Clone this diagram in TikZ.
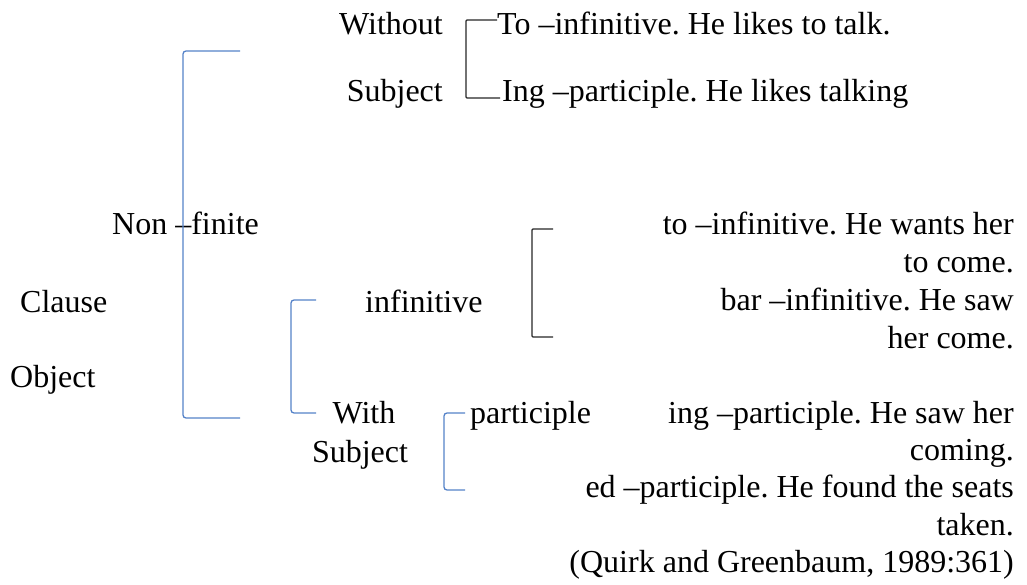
\documentclass[tikz,border=0pt]{standalone}
\usepackage{fontspec}
\setmainfont{Liberation Serif}
\frenchspacing
\definecolor{brblue}{RGB}{84,130,200}

\begin{document}
\begin{tikzpicture}[x=1pt,y=-1pt]
    \tikzset{
    txt/.style={inner sep=0pt,font=\fontsize{32}{37.5}\selectfont},
    lft/.style={txt,anchor=base west},
    rgt/.style={txt,anchor=base east},
    bl/.style={draw=brblue,line width=1.3pt,rounded corners=3pt},
    bk/.style={draw=black!85,line width=1.2pt,rounded corners=1pt},
    }
    \useasboundingbox (0,0) rectangle (1027,585);

    \node[lft] (clause) at (20,312) {Clause};
    \node[lft] (object) at (10,387) {Object};
    \node[lft] (nonfin) at (112,235) {Non –finite};

    \node[rgt] (without) at (443,35) {Without};
    \node[rgt] (subj1) at (443,102) {Subject};
    \node[lft] (toinf) at (497,35) {To –infinitive. He likes to talk.};
    \node[lft] (ingpart) at (502,102) {Ing –participle. He likes talking};

    \node[lft] (inf) at (365,312) {infinitive};
    \node[txt,anchor=base] (with) at (364,423) {With};
    \node[txt,anchor=base] (subj2) at (360,462) {Subject};
    \node[lft] (part) at (470,423) {participle};

    \node[rgt] (toinf2) at (1014,235) {to –infinitive. He wants her};
    \node[rgt] (tocome) at (1014,272) {to come.};
    \node[rgt] (barinf) at (1014,310) {bar –infinitive. He saw};
    \node[rgt] (hercome) at (1014,348) {her come.};
    \node[rgt] (ingpart2) at (1014,423) {ing –participle. He saw her};
    \node[rgt] (coming) at (1014,460) {coming.};
    \node[rgt] (edpart) at (1014,497) {ed –participle. He found the seats};
    \node[rgt] (taken) at (1014,535) {taken.};
    \node[rgt] (source) at (1014,572) {(Quirk and Greenbaum, 1989:361)};

    % bracket ends
    \coordinate (nfa) at (240,51);
    \coordinate (nfb) at (240,418);
    \coordinate (wsa) at (497,20);
    \coordinate (wsb) at (500,98);
    \coordinate (ifa) at (316,300);
    \coordinate (ifb) at (316,413);
    \coordinate (tba) at (553,229);
    \coordinate (tbb) at (553,337);
    \coordinate (pta) at (465,413);
    \coordinate (ptb) at (465,490);

    \draw[bl] (nfa) -- ++(-57,0) |- (nfb);
    \draw[bk] (wsa) -- ++(-31,0) |- (wsb);
    \draw[bl] (ifa) -- ++(-25,0) |- (ifb);
    \draw[bk] (tba) -- ++(-21,0) |- (tbb);
    \draw[bl] (pta) -- ++(-21,0) |- (ptb);
\end{tikzpicture}
\end{document}
